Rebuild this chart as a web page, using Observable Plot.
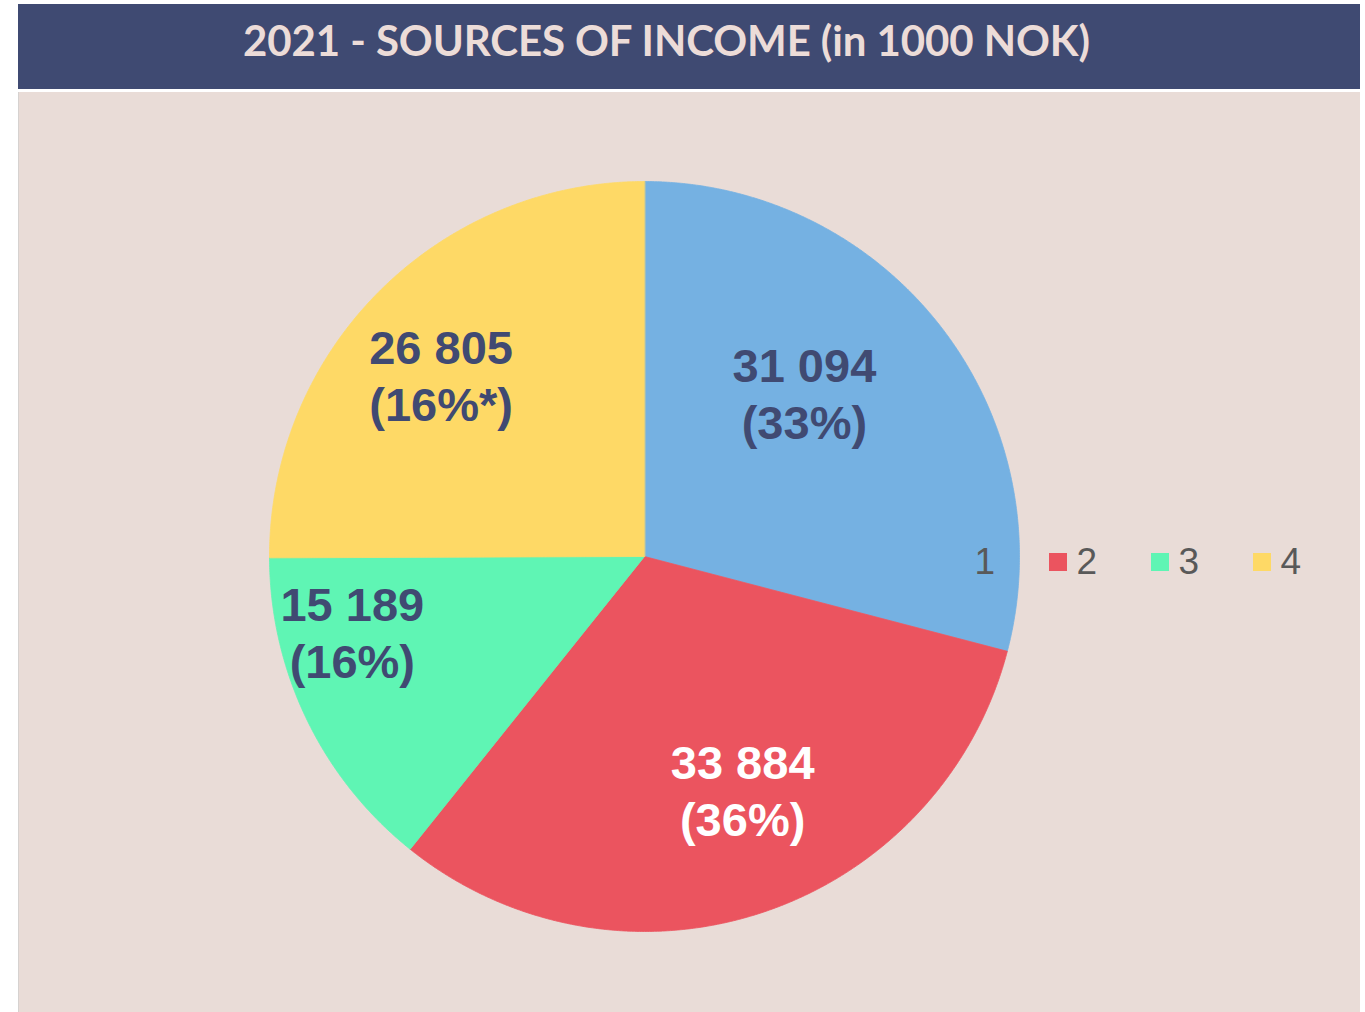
<!DOCTYPE html>
<html>
<head>
<meta charset="utf-8">
<script src="https://cdn.jsdelivr.net/npm/d3@7"></script>
<script src="https://cdn.jsdelivr.net/npm/@observablehq/plot@0.6"></script>
<style>
  html, body { margin: 0; padding: 0; background: #ffffff; }
  #wrap { position: absolute; left: 18px; top: 4px; width: 1342px; }
  #title {
    height: 85px; box-sizing: border-box; padding-bottom: 14px; padding-right: 45px;
    background: #3f4a72; color: #ecdcd8;
    font-family: Lato, "Open Sans", sans-serif; font-weight: bold; font-size: 42px;
    display: flex; align-items: center; justify-content: center;
    letter-spacing: -0.1px;
  }
  #chart { margin-top: 3px; }
  #chart svg { display: block; background: #e9dcd7; box-shadow: inset 1px 0 0 #d6d2d0; }
</style>
</head>
<body>
<div id="wrap">
  <div id="title">2021 - SOURCES OF INCOME (in 1000 NOK)</div>
  <div id="chart"></div>
</div>
<script>
// ---- data ----
const categories = ["1", "2", "3", "4"];
const values = [31094, 33884, 15189, 26805];
const valueLabels = ["31 094", "33 884", "15 189", "26 805"];
const percentLabels = ["(33%)", "(36%)", "(16%)", "(16%*)"];

// ---- styles ----
const colors = ["#75b1e2", "#eb545f", "#5ff5b4", "#fed966"];
const labelColors = ["#404a72", "#ffffff", "#404a72", "#404a72"];

// ---- layout ----
const W = 1342, H = 920;
const cx = 626, cy = 464, R = 375;
const labelAngle = [45, 157.5, 254.9, 311.2];   // degrees clockwise from 12 o'clock
const labelRadius = [0.603, 0.684, 0.807, 0.721]; // fraction of radius
const legendX0 = 929, legendStep = 102, legendY = 470, swatch = 18;

// ---- build slices ----
const pie = d3.pie().sort(null).value(d => d.value);
const table = categories.map((c, i) => ({key: c, value: values[i], i}));
const arcs = pie(table);
const polyPoints = [];
for (const a of arcs) {
  polyPoints.push({key: a.data.key, x: cx, y: cy});
  const n = Math.max(2, Math.ceil((a.endAngle - a.startAngle) / (Math.PI / 720)));
  for (let k = 0; k <= n; k++) {
    const t = a.startAngle + (a.endAngle - a.startAngle) * k / n;
    polyPoints.push({key: a.data.key, x: cx + R * Math.sin(t), y: cy - R * Math.cos(t)});
  }
}
const labels = arcs.map((a, i) => {
  const t = labelAngle[i] * Math.PI / 180;
  return {
    key: a.data.key,
    text: valueLabels[i] + "\n" + percentLabels[i],
    x: cx + labelRadius[i] * R * Math.sin(t),
    y: cy - labelRadius[i] * R * Math.cos(t),
    color: labelColors[i]
  };
});
const legend = categories.map((c, i) => ({
  key: c,
  x1: legendX0 + i * legendStep, x2: legendX0 + i * legendStep + swatch,
  y1: legendY - swatch / 2, y2: legendY + swatch / 2,
  tx: legendX0 + i * legendStep + swatch + 9
}));

const chart = Plot.plot({
  width: W, height: H,
  margin: 0,
  x: {domain: [0, W], range: [0, W], axis: null},
  y: {domain: [0, H], range: [0, H], axis: null},
  color: {domain: categories, range: colors},
  style: {background: "#e9dcd7"},
  marks: [
    // legend swatches (drawn under the pie, as in the original)
    Plot.rect(legend, {x1: "x1", x2: "x2", y1: "y1", y2: "y2", fill: "key"}),
    // pie slices
    Plot.line(polyPoints, {x: "x", y: "y", z: "key", fill: "key", stroke: "key",
      strokeWidth: 0.8, curve: "linear-closed"}),
    // legend labels (on top)
    Plot.text(legend, {x: "tx", y: () => legendY, text: "key", textAnchor: "start",
      fontSize: 37, fill: "#595959", fontFamily: "'Liberation Sans', Arial, sans-serif"}),
    // data labels
    Plot.text(labels, {x: "x", y: "y", dy: -4, text: "text", fill: "color", fontSize: 47,
      fontWeight: "bold", lineHeight: 1.2, fontFamily: "'Liberation Sans', Arial, sans-serif"})
  ]
});
document.getElementById("chart").appendChild(chart);
</script>
</body>
</html>
